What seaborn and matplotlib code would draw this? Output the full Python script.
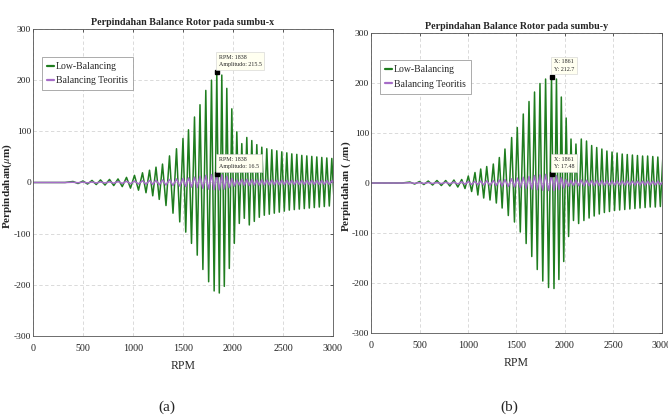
import numpy as np
import pandas as pd
import matplotlib
matplotlib.use("Agg")
import matplotlib.pyplot as plt
import seaborn as sns

# flat start of both runs (RPM, amplitude 0)
flat_rpm = [0, 320]

# ---- panel (a): sumbu-x, RPM of each upper peak, then peak / trough values
rpm_x = [400, 500, 590, 675, 765, 850, 935, 1015, 1095, 1165,
         1230, 1295, 1365, 1435, 1500, 1555, 1615, 1670, 1728, 1785,
         1838, 1888, 1938, 1988, 2038, 2088, 2138, 2188, 2238, 2288,
         2338, 2388, 2438, 2488, 2538, 2588, 2638, 2688, 2738, 2788,
         2838, 2888, 2938, 2988]
low_up_x = [2, 3, 4, 5, 6, 7, 10, 14, 19, 24,
            30, 36, 52, 66, 86, 103, 128, 152, 180, 200,
            215.5, 210, 184, 144, 99, 76, 88, 82, 74, 69,
            66, 64, 62, 60, 58, 56, 55, 53, 52, 51,
            50, 49, 48, 47]
low_dn_x = [-2, -3, -4, -5, -6, -8, -11, -15, -20, -26,
            -33, -45, -60, -77, -97, -119, -142, -170, -194, -212,
            -216, -203, -168, -119, -80, -70, -83, -76, -68, -64,
            -62, -60, -58, -56, -54, -53, -52, -51, -50, -49,
            -48, -47, -46, -45]
teo_up_x = [0.5, 0.8, 1, 1.2, 1.5, 2, 2.5, 3, 3.5, 4,
            4.5, 5, 6, 7, 8, 9, 10.5, 12, 14, 15.5,
            16.5, 15, 12, 8, 5, 6, 6, 5.5, 5, 5,
            4.8, 4.6, 4.5, 4.4, 4.3, 4.2, 4.1, 4, 4, 4,
            3.9, 3.9, 3.8, 3.8]
teo_dn_x = [-0.5, -0.8, -1, -1.2, -1.5, -2, -2.5, -3, -3.5, -4,
            -4.5, -5, -6, -7, -8, -9, -10, -11.5, -13, -14,
            -14.5, -13, -10, -7, -5, -5.5, -5.5, -5, -5, -4.8,
            -4.6, -4.5, -4.4, -4.3, -4.2, -4.1, -4, -4, -4, -3.9,
            -3.9, -3.8, -3.8, -3.8]

# ---- panel (b): sumbu-y
rpm_y = [400, 500, 590, 680, 770, 855, 935, 1003, 1072, 1131,
         1193, 1261, 1323, 1381, 1450, 1508, 1570, 1629, 1686, 1742,
         1800, 1861, 1912, 1962, 2012, 2062, 2113, 2168, 2222, 2275,
         2327, 2380, 2432, 2485, 2537, 2590, 2642, 2695, 2747, 2800,
         2852, 2905, 2957, 3009]
low_up_y = [2, 3, 4, 5, 5, 6, 7, 14, 21, 28,
            33, 38, 51, 68, 91, 111, 138, 163, 182, 199,
            208, 212.7, 208, 172, 130, 88, 78, 88, 84, 75,
            71, 68, 64, 62, 60, 58, 57, 56, 55, 54,
            54, 53, 52, 52]
low_dn_y = [-2, -3, -4, -5, -6, -8, -11, -17, -24, -30,
            -34, -40, -50, -65, -78, -98, -121, -147, -173, -196,
            -209, -211, -193, -157, -107, -75, -81, -75, -70, -66,
            -62, -59, -57, -55, -54, -53, -52, -51, -50, -49,
            -48, -48, -47, -47]
teo_up_y = [0.5, 0.8, 1, 1.2, 1.5, 2, 2.5, 3, 3.5, 4,
            4.5, 5, 6, 7, 8.5, 10, 11.5, 13, 15, 16.5,
            17.2, 17.48, 15, 11, 7, 5, 6, 6, 5.5, 5,
            5, 4.8, 4.6, 4.5, 4.4, 4.3, 4.2, 4.1, 4, 4,
            4, 3.9, 3.9, 3.8]
teo_dn_y = [-0.5, -0.8, -1, -1.2, -1.5, -2, -2.5, -3, -3.5, -4,
            -4.5, -5, -6, -7, -8, -9, -10.5, -12, -13.5, -14.5,
            -15, -15, -13, -10, -6.5, -5, -5.5, -5.5, -5, -5,
            -4.8, -4.6, -4.5, -4.4, -4.3, -4.2, -4.1, -4, -4, -4,
            -3.9, -3.9, -3.8, -3.8]

series_names = ["Low-Balancing", "Balancing Teoritis"]
colors = {"Low-Balancing": "#1f7d1f", "Balancing Teoritis": "#a66dc8"}


def zigzag(rpm, up, dn, name):
    xs = list(flat_rpm)
    ys = [0.0] * len(flat_rpm)
    for i in range(len(rpm)):
        nxt = rpm[i + 1] if i + 1 < len(rpm) else 2 * rpm[i] - rpm[i - 1]
        xs += [rpm[i], (rpm[i] + nxt) / 2]
        ys += [up[i], dn[i]]
    return pd.DataFrame({"RPM": xs, "amp": ys, "series": name})


def draw_panel(ax, rpm, lup, ldn, tup, tdn, title, ylabel, tips):
    df = pd.concat([zigzag(rpm, lup, ldn, series_names[0]),
                    zigzag(rpm, tup, tdn, series_names[1])])
    sns.lineplot(data=df, x="RPM", y="amp", hue="series", hue_order=series_names,
                 palette=colors, estimator=None, sort=False, lw=1.1, ax=ax)
    ax.set_xlim(0, 3000)
    ax.set_ylim(-300, 300)
    ax.set_xticks(range(0, 3001, 500))
    ax.set_yticks(range(-300, 301, 100))
    ax.grid(True, ls=(0, (4, 3)), color="#d4d4d4", lw=0.6)
    ax.tick_params(direction="in", length=2.5, width=0.5, top=True, right=True,
                   labelsize=6.8, colors="#222222", pad=1.5)
    ax.tick_params(axis="x", pad=6, labelsize=7.2)
    for s in ax.spines.values():
        s.set_color("#555555")
        s.set_linewidth(0.6)
    ax.set_title(title, fontsize=7.2, fontweight="bold", pad=3)
    ax.set_xlabel("RPM", fontsize=8.5, labelpad=5)
    ax.set_ylabel(ylabel, fontsize=8, fontweight="bold")
    ax.yaxis.set_label_coords(-18.5 / (ax.get_position().width * 668), 0.49)

    # data tips at the maximum of the Low-Balancing run
    k = int(np.argmax(lup))
    for yv, txt in zip([lup[k], tup[k]], tips):
        ax.plot(rpm[k], yv, "s", color="black", ms=2.5, zorder=5)
        ax.annotate(txt, xy=(rpm[k], yv), xytext=(1.5, 3.5), textcoords="offset points",
                    fontsize=4.3, ha="left", va="bottom", zorder=6, linespacing=1.6,
                    bbox=dict(boxstyle="square,pad=0.45", fc="#fffff0", ec="#cfcfcf", lw=0.4))

    leg = ax.legend(loc="upper left", bbox_to_anchor=(0.025, 0.915), fontsize=7,
                    handlelength=0.7, handletextpad=0.2, borderpad=0.5,
                    labelspacing=0.55, fancybox=False, framealpha=1,
                    borderaxespad=0.2)
    leg.get_frame().set_edgecolor("#8a8a8a")
    leg.get_frame().set_linewidth(0.5)
    for ln in leg.get_lines():
        ln.set_linewidth(1.6)


sns.set_theme(style="white")
plt.rcParams["font.family"] = ["Liberation Serif", "DejaVu Serif"]
plt.rcParams["mathtext.fontset"] = "stix"
plt.rcParams["axes.unicode_minus"] = False

fig = plt.figure(figsize=(6.68, 4.18), dpi=100)
ax1 = fig.add_axes([0.0494, 0.1962, 0.4491, 0.7344])
ax2 = fig.add_axes([0.5554, 0.2033, 0.4356, 0.7177])

draw_panel(ax1, rpm_x, low_up_x, low_dn_x, teo_up_x, teo_dn_x,
           "Perpindahan Balance Rotor pada sumbu-x", r"Perpindahan($\mu$m)",
           ["RPM: 1838\nAmplitudo: 215.5", "RPM: 1838\nAmplitudo: 16.5"])
draw_panel(ax2, rpm_y, low_up_y, low_dn_y, teo_up_y, teo_dn_y,
           "Perpindahan Balance Rotor pada sumbu-y", r"Perpindahan ( $\mu$m)",
           ["X: 1861\nY: 212.7", "X: 1861\nY: 17.48"])

fig.text(0.25, 0.026, "(a)", ha="center", va="center", fontsize=11)
fig.text(0.763, 0.026, "(b)", ha="center", va="center", fontsize=11)

fig.savefig("out.png", dpi=100)
plt.close(fig)
